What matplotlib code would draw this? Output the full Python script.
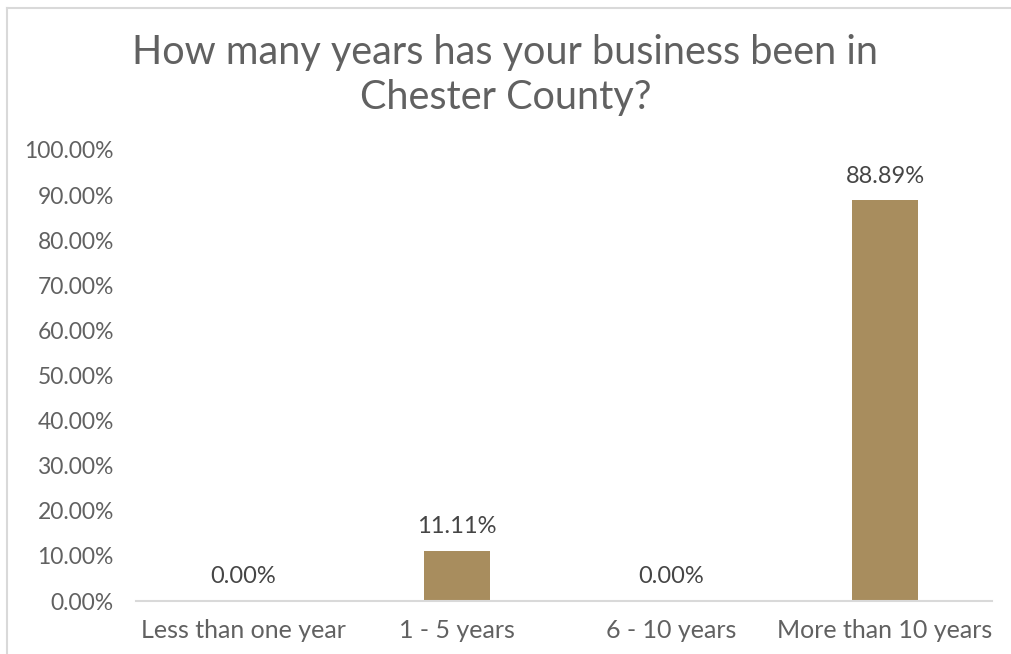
import matplotlib.pyplot as plt
from matplotlib.lines import Line2D

categories = ["Less than one year", "1 - 5 years", "6 - 10 years", "More than 10 years"]
values = [0.00, 11.11, 0.00, 88.89]
yticks = [0, 10, 20, 30, 40, 50, 60, 70, 80, 90, 100]

txt = "#616161"
bar_color = "#A88D5E"
plt.rcParams['font.family'] = ['Lato', 'DejaVu Sans']

fig = plt.figure(figsize=(10.11, 6.54), dpi=100)
ax = fig.add_axes([136 / 1011, 1 - 601 / 654, 856 / 1011, 451 / 654])

x = range(len(categories))
ax.bar(x, values, width=0.31, color=bar_color)
for i, v in zip(x, values):
    ax.text(i, v + 3, f"{v:.2f}%", ha='center', va='bottom', fontsize=17,
            color="#454545")

ax.set_xlim(-0.5, len(categories) - 0.5)
ax.set_ylim(0, 100)
ax.set_yticks(yticks)
ax.set_yticklabels([f"{t:.2f}%" for t in yticks], fontsize=16.5, color=txt)
ax.set_xticks(list(x))
ax.set_xticklabels(categories, fontsize=18, color=txt)
ax.tick_params(axis='y', length=0, pad=16)
ax.tick_params(axis='x', length=0, pad=13)
for s in ['top', 'right', 'left']:
    ax.spines[s].set_visible(False)
ax.spines['bottom'].set_color('#d9d9d9')
ax.spines['bottom'].set_linewidth(1.5)

fig.text(0.5, 1 - 75 / 654, "How many years has your business been in\nChester County?",
         ha='center', va='center', fontsize=28.5, color=txt,
         linespacing=1.25)

# chart frame
fig.add_artist(Line2D([7 / 1011, 1.0], [1 - 8 / 654, 1 - 8 / 654], color='#d9d9d9', lw=1.5))
fig.add_artist(Line2D([7 / 1011, 7 / 1011], [0, 1 - 8 / 654], color='#d9d9d9', lw=1.5))

fig.savefig("out.png", dpi=100, facecolor='white')
